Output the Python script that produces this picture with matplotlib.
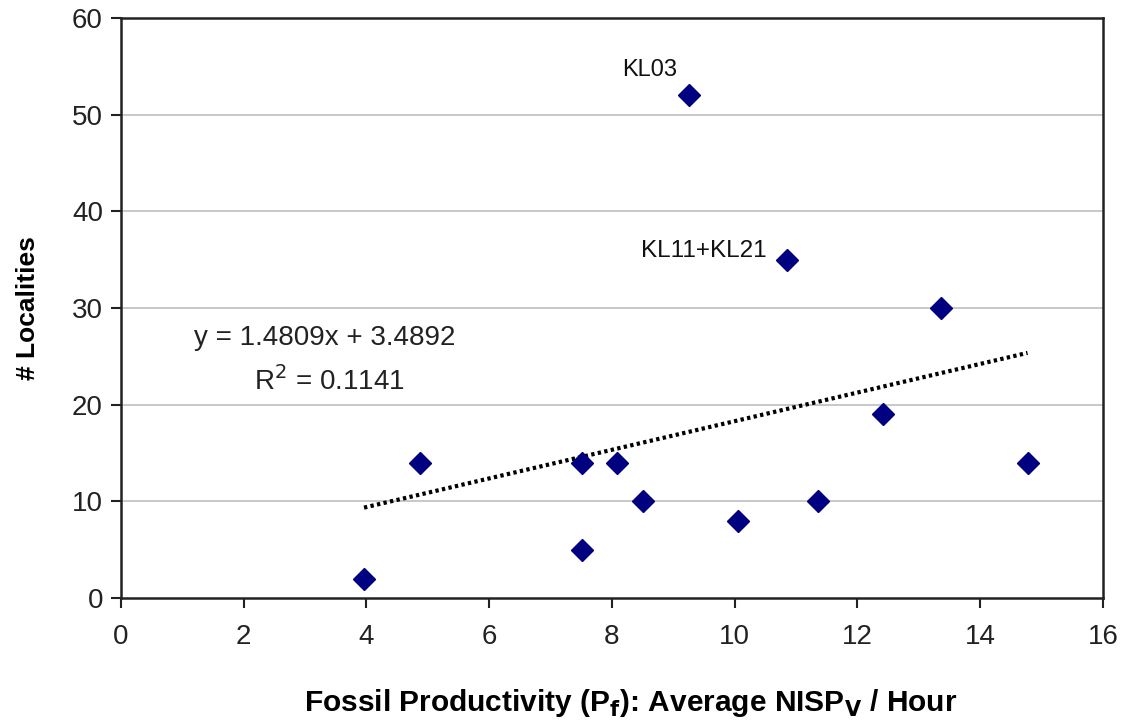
import matplotlib
matplotlib.use("Agg")
import matplotlib.pyplot as plt
import numpy as np

plt.rcParams['font.family'] = ['Liberation Sans', 'DejaVu Sans']

x_vals = [3.96, 4.87, 7.51, 7.51, 8.08, 8.5, 9.25, 10.05, 10.85, 11.35, 12.41, 13.36, 14.77]
y_vals = [2, 14, 14, 5, 14, 10, 52, 8, 35, 10, 19, 30, 14]
slope = 1.4809
intercept = 3.4892
r2 = 0.1141
x_ticks = [0, 2, 4, 6, 8, 10, 12, 14, 16]
y_ticks = [0, 10, 20, 30, 40, 50, 60]

fig = plt.figure(figsize=(11.23, 7.24), dpi=100)
ax = fig.add_axes([0.1077, 0.174, 0.8745, 0.801])

ax.set_xlim(0, 16)
ax.set_ylim(0, 60)
for yt in y_ticks[1:-1]:
    ax.axhline(yt, color='#c4c4c4', lw=1.3, zorder=0)

xmin, xmax = min(x_vals), max(x_vals)
tx = np.array([xmin, xmax])
ax.plot(tx, slope * tx + intercept, color='black', lw=3, linestyle=(0, (0.8, 0.8)), zorder=2)

ax.plot(x_vals, y_vals, linestyle='none', marker='D', ms=11, color='#000080',
        markeredgecolor='#000080', zorder=3)

ax.text(9.06, 54.6, "KL03", fontsize=17, ha='right', va='center', color='#111111')
ax.text(10.52, 35.9, "KL11+KL21", fontsize=17.5, ha='right', va='center', color='#111111')

ax.text(3.32, 26.9, "y = %.4fx + %.4f" % (slope, intercept), fontsize=20,
        ha='center', va='center', color='#222222')
ax.text(3.4, 22.5, "R$^2$ = %.4f" % r2, fontsize=20, ha='center', va='center',
        color='#222222')

ax.set_xticks(x_ticks)
ax.set_yticks(y_ticks)
ax.tick_params(axis='both', direction='out', length=7, width=1.5, labelsize=20,
               colors='#222222')
ax.tick_params(axis='x', pad=12)
ax.tick_params(axis='y', pad=6)
for s in ax.spines.values():
    s.set_linewidth(1.8)
    s.set_color('#222222')

ax.set_xlabel("Fossil Productivity (P$_\\mathbf{f}$): Average NISP$_\\mathbf{V}$ / Hour",
              fontsize=21.5, fontweight='bold', va='center')
ax.xaxis.set_label_coords(0.519, -0.181)
ax.set_ylabel("# Localities", fontsize=19, fontweight='bold', va='center')
ax.yaxis.set_label_coords(-0.0947, 0.5)

fig.savefig("out.png", dpi=100)
